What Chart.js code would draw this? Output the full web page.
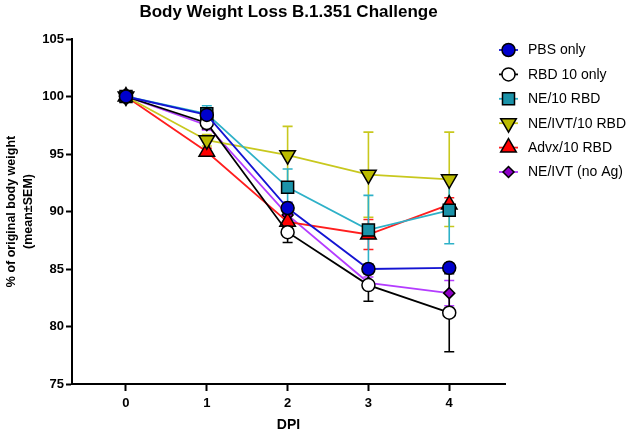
<!DOCTYPE html>
<html>
<head>
<meta charset="utf-8">
<script src="https://cdn.jsdelivr.net/npm/chart.js@4"></script>
<style>
html,body{margin:0;padding:0;background:#fff;}
#wrap{width:633px;height:432px;}
</style>
</head>
<body>
<div id="wrap"><canvas id="c" width="633" height="432"></canvas></div>
<script>
const DPI = [0, 1, 2, 3, 4];
const seriesNames = ['PBS only', 'RBD 10 only', 'NE/10 RBD', 'NE/IVT/10 RBD', 'Advx/10 RBD', 'NE/IVT (no Ag)'];
const pbsMean   = [100, 98.4, 90.3, 85.0, 85.1];
const pbsSem    = [0.5, 0.3, 0.5, 0.4, 0.4];
const rbdMean   = [100, 97.7, 88.2, 83.6, 81.2];
const rbdSem    = [0.4, 0.5, 0.9, 1.4, 3.4];
const ne10Mean  = [100, 98.5, 92.1, 88.4, 90.1];
const ne10Sem   = [0.3, 0.7, 1.6, 3.0, 2.9];
const neIvt10Mean = [100, 96.2, 94.9, 93.2, 92.8];
const neIvt10Sem  = [0.3, 0.5, 2.5, 3.7, 4.1];
const advxMean  = [100, 95.2, 89.1, 88.0, 90.6];
const advxSem   = [0.3, 0.3, 0.5, 1.3, 0.6];
const noAgMean  = [100, 97.5, 89.7, 83.8, 82.9];
const noAgSem   = [0.3, 0.4, 0.6, 0.5, 1.1];
const yTicks = [75, 80, 85, 90, 95, 100, 105];

const FONT = "'Liberation Sans', Arial, Helvetica, sans-serif";

function mk(label, mean, sem, fill, line, style, radius, rotation) {
  return {
    label,
    data: DPI.map((d, j) => ({x: d, y: mean[j]})),
    sem,
    borderColor: line,
    backgroundColor: fill,
    borderWidth: 1.8,
    pointStyle: style,
    pointRadius: radius,
    pointHoverRadius: radius,
    pointRotation: rotation || 0,
    pointBackgroundColor: fill,
    pointBorderColor: '#000',
    pointBorderWidth: 1.5,
    tension: 0,
    fill: false
  };
}

const datasets = [
  mk(seriesNames[0], pbsMean, pbsSem, '#0000CC', '#1414D2', 'circle', 6.5),
  mk(seriesNames[1], rbdMean, rbdSem, '#FFFFFF', '#000000', 'circle', 6.5),
  mk(seriesNames[2], ne10Mean, ne10Sem, '#1B93A9', '#2EB1C8', 'rect', 8.5),
  mk(seriesNames[3], neIvt10Mean, neIvt10Sem, '#BBBB00', '#C8C81E', 'triangle', 9, 180),
  mk(seriesNames[4], advxMean, advxSem, '#FF0000', '#FF1E1E', 'triangle', 9),
  mk(seriesNames[5], noAgMean, noAgSem, '#8E00C8', '#B43CFF', 'rectRot', 5.5)
];

const errorBars = {
  id: 'errorBars',
  beforeDatasetsDraw(chart) {
    const ctx = chart.ctx, xs = chart.scales.x, ys = chart.scales.y;
    for (let i = chart.data.datasets.length - 1; i >= 0; i--) {
      const ds = chart.data.datasets[i];
      ctx.save();
      ctx.strokeStyle = ds.borderColor;
      ctx.lineWidth = 1.6;
      ds.data.forEach((p, j) => {
        const x = xs.getPixelForValue(p.x);
        const yt = ys.getPixelForValue(p.y + ds.sem[j]);
        const yb = ys.getPixelForValue(p.y - ds.sem[j]);
        ctx.beginPath();
        ctx.moveTo(x, yt); ctx.lineTo(x, yb);
        ctx.moveTo(x - 5, yt); ctx.lineTo(x + 5, yt);
        ctx.moveTo(x - 5, yb); ctx.lineTo(x + 5, yb);
        ctx.stroke();
      });
      ctx.restore();
    }
  }
};

const customLegend = {
  id: 'customLegend',
  afterDraw(chart) {
    const ctx = chart.ctx;
    const x0 = 499, x1 = 518, xm = 508.5, tx = 528;
    chart.data.datasets.forEach((ds, i) => {
      const y = 50 + i * 24.4;
      ctx.save();
      ctx.strokeStyle = ds.borderColor;
      ctx.lineWidth = 1.8;
      ctx.beginPath(); ctx.moveTo(x0, y); ctx.lineTo(x1, y); ctx.stroke();
      ctx.fillStyle = ds.pointBackgroundColor;
      ctx.strokeStyle = '#000';
      ctx.lineWidth = 1.5;
      Chart.helpers.drawPoint(ctx, {pointStyle: ds.pointStyle, rotation: ds.pointRotation, radius: ds.pointRadius, borderWidth: 1.5}, xm, y);
      ctx.fillStyle = '#000';
      ctx.font = "14px " + FONT;
      ctx.textBaseline = 'middle';
      ctx.textAlign = 'left';
      ctx.fillText(ds.label, tx, y + 0.5);
      ctx.restore();
    });
  }
};

new Chart(document.getElementById('c'), {
  type: 'line',
  data: {datasets},
  plugins: [errorBars, customLegend],
  options: {
    responsive: false,
    animation: false,
    layout: {padding: {left: 0, right: 128, top: 0, bottom: 0}},
    plugins: {
      legend: {display: false},
      tooltip: {enabled: false},
      title: {
        display: true,
        fullSize: false,
        text: 'Body Weight Loss B.1.351 Challenge',
        color: '#000',
        font: {family: FONT, size: 17, weight: 'bold', lineHeight: 1.2},
        padding: {top: 2, bottom: 16.6}
      }
    },
    scales: {
      x: {
        type: 'linear',
        min: -0.668,
        max: 4.69,
        afterFit(s) { s.height = 48; },
        afterBuildTicks(s) { s.ticks = DPI.map(v => ({value: v})); },
        grid: {drawOnChartArea: false, tickLength: 7, tickWidth: 2, color: '#000'},
        border: {display: true, color: '#000', width: 2},
        ticks: {color: '#000', padding: 5, font: {family: FONT, size: 13, weight: 'bold'}, callback: v => String(v)},
        title: {display: true, text: 'DPI', color: '#000', font: {family: FONT, size: 14, weight: 'bold', lineHeight: 1.0}, padding: {top: 0, bottom: 0}}
      },
      y: {
        min: 75,
        max: 105,
        afterFit(s) { s.width = 72; },
        afterBuildTicks(s) { s.ticks = yTicks.map(v => ({value: v})); },
        grid: {drawOnChartArea: false, tickLength: 6, tickWidth: 2, color: '#000'},
        border: {display: true, color: '#000', width: 2},
        ticks: {color: '#000', padding: 2, font: {family: FONT, size: 13, weight: 'bold'}, callback: v => String(v)},
        title: {display: true, text: ['% of original body weight', '(mean±SEM)'], color: '#000', font: {family: FONT, size: 12.5, weight: 'bold', lineHeight: 1.35}, padding: {top: 3.5, bottom: 0}}
      }
    }
  }
});
</script>
</body>
</html>
